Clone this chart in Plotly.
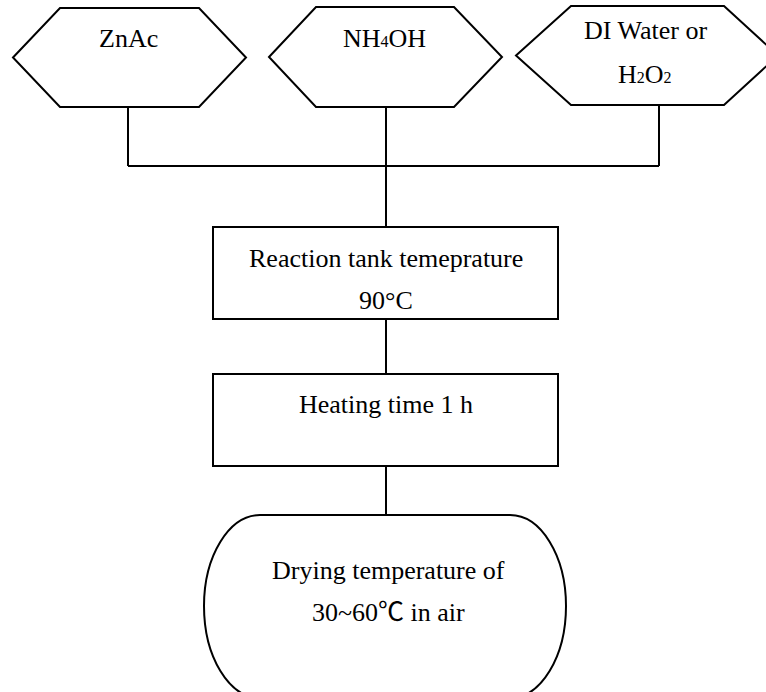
import plotly.graph_objects as go

# ---- content ----
SUB = '<span style="font-size:16px">{}</span>'
input_labels = ["ZnAc", "NH" + SUB.format("4") + "OH",
                ["DI Water or", "H" + SUB.format("2") + "O" + SUB.format("2")]]
step_labels = [["Reaction tank temeprature", "90°C"], ["Heating time 1 h"]]
final_label = ["Drying temperature of",
               "30~60<span style=\"font-family:'Noto Sans CJK SC'\">℃</span> in air"]

# ---- geometry (pixel layout) ----
W, H = 766, 692
hexes = [  # left point x, top-left x, top-right x, right point x, top y, bottom y
    (13, 60, 199, 246, 8, 107),
    (269, 316, 454, 502, 7, 107),
    (516, 571, 724, 778, 6, 105),
]
hex_text_y = [[38], [38], [30, 74]]
hex_text_x = [128, 384, 645]
hub_y = 166
trunk_x = 386
rects = [(213, 558, 227, 319), (213, 558, 374, 466)]
rect_text_y = [[258, 300], [404]]
term = dict(l=204, r=566, fl=260, fr=510, top=515, bot=698)
term_text_y = [570, 609]

LINE = dict(color="black", width=2)
FONT = dict(family="Liberation Serif, Times New Roman, serif", size=26, color="black")

shapes = []
annotations = []

def ann(x, y, t):
    annotations.append(dict(x=x, y=y, xref="x", yref="y", text=t, showarrow=False,
                            font=FONT, xanchor="center", yanchor="middle"))

for (lx, tlx, trx, rx, ty, by), lab, tys, tx in zip(hexes, input_labels, hex_text_y, hex_text_x):
    my = (ty + by) / 2
    shapes.append(dict(type="path", xref="x", yref="y", line=LINE,
                       path=f"M{lx},{my} L{tlx},{ty} L{trx},{ty} L{rx},{my} L{trx},{by} L{tlx},{by} Z"))
    lines = lab if isinstance(lab, list) else [lab]
    for t, y in zip(lines, tys):
        ann(tx, y, t)

# connectors from inputs to hub
for (lx, tlx, trx, rx, ty, by), tx in zip(hexes, [128, 386, 659]):
    shapes.append(dict(type="line", xref="x", yref="y", x0=tx, x1=tx, y0=by, y1=hub_y, line=LINE))
shapes.append(dict(type="line", xref="x", yref="y", x0=128, x1=659, y0=hub_y, y1=hub_y, line=LINE))
shapes.append(dict(type="line", xref="x", yref="y", x0=trunk_x, x1=trunk_x, y0=hub_y, y1=rects[0][2], line=LINE))

for (x0, x1, y0, y1), lab, tys in zip(rects, step_labels, rect_text_y):
    shapes.append(dict(type="rect", xref="x", yref="y", x0=x0, x1=x1, y0=y0, y1=y1, line=LINE))
    for t, y in zip(lab, tys):
        ann(386, y, t)

shapes.append(dict(type="line", xref="x", yref="y", x0=trunk_x, x1=trunk_x, y0=rects[0][3], y1=rects[1][2], line=LINE))
shapes.append(dict(type="line", xref="x", yref="y", x0=trunk_x, x1=trunk_x, y0=rects[1][3], y1=term["top"], line=LINE))

# terminal shape (flat top/bottom, elliptical sides)
k = 0.5523
l, r, fl, fr, top, bot = term["l"], term["r"], term["fl"], term["fr"], term["top"], term["bot"]
my = 606
rx_ = fl - l
ry1 = my - top
ry2 = bot - my
p = (f"M{fl},{top} L{fr},{top} "
     f"C{fr + k*rx_},{top} {r},{my - k*ry1} {r},{my} "
     f"C{r},{my + k*ry2} {fr + k*rx_},{bot} {fr},{bot} "
     f"L{fl},{bot} "
     f"C{fl - k*rx_},{bot} {l},{my + k*ry2} {l},{my} "
     f"C{l},{my - k*ry1} {fl - k*rx_},{top} {fl},{top} Z")
shapes.append(dict(type="path", xref="x", yref="y", path=p, line=LINE))
for t, y in zip(final_label, term_text_y):
    ann(388, y, t)

fig = go.Figure()
fig.add_trace(go.Scatter(x=[0, W], y=[0, H], mode="markers", marker=dict(opacity=0), hoverinfo="skip", showlegend=False))
fig.update_layout(
    width=W, height=H, margin=dict(l=0, r=0, t=0, b=0),
    paper_bgcolor="white", plot_bgcolor="white",
    xaxis=dict(range=[0, W], visible=False, fixedrange=True),
    yaxis=dict(range=[H, 0], visible=False, fixedrange=True),
    shapes=shapes, annotations=annotations, showlegend=False,
)
fig.write_html("out.html", config={"displayModeBar": False},
               post_script="document.body.style.margin='0';document.body.style.overflow='hidden';")
